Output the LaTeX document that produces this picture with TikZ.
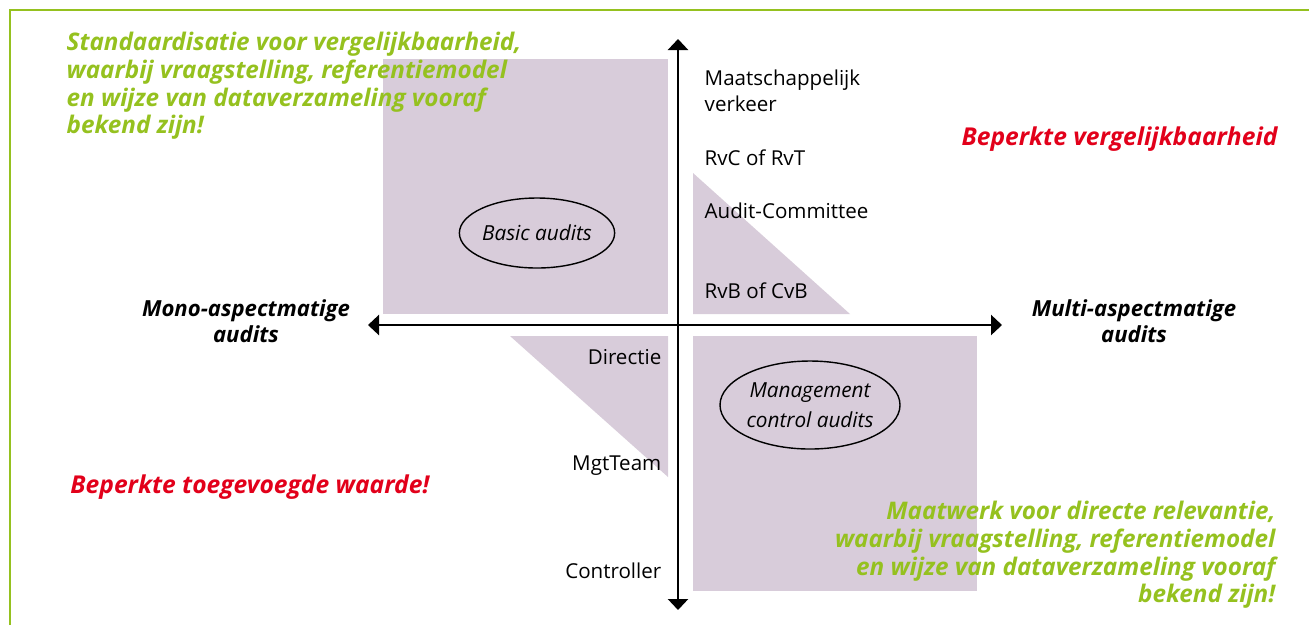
\documentclass[tikz,border=0pt]{standalone}
\usepackage{fontspec}
\setmainfont{Open Sans}
\usepackage{xcolor}
\usetikzlibrary{shapes.geometric,arrows.meta,positioning}

\definecolor{lime}{RGB}{149,193,31}
\definecolor{signal}{RGB}{226,0,26}
\definecolor{mauve}{RGB}{216,204,218}

\begin{document}
\begin{tikzpicture}[
    every node/.style={inner sep=0pt, font=\fontsize{5.85}{7.4}\selectfont},
    axis/.style={line width=0.7pt, {Triangle[width=0.2cm,length=0.11cm]}-{Triangle[width=0.2cm,length=0.11cm]}},
    field/.style={fill=mauve},
    claim/.style={text=lime, font=\fontsize{6.9}{7.9}\selectfont\bfseries\itshape},
    warn/.style={text=signal, font=\fontsize{7}{7.9}\selectfont\bfseries\itshape},
    pole/.style={align=center, font=\fontsize{6.3}{7.4}\selectfont\bfseries\itshape},
    kind/.style={ellipse, draw, line width=0.4pt, align=center, font=\fontsize{5.9}{8.5}\selectfont\itshape}]

    \useasboundingbox (0,0) rectangle (13.09,6.25);

    % frame
    \draw[lime, line width=0.6pt] (0.10,0) -- (0.10,6.15) -- (13.09,6.15);

    % shaded fields
    \fill[field] (3.83,3.11) rectangle (6.68,5.66);
    \fill[field] (6.93,4.52) -- (6.93,3.11) -- (8.50,3.11) -- cycle;
    \fill[field] (5.10,2.89) -- (6.68,2.89) -- (6.68,1.48) -- cycle;
    \fill[field] (6.93,0.34) rectangle (9.77,2.89);

    % axes
    \coordinate (top) at (6.78,5.86);
    \coordinate (bottom) at (6.78,0.15);
    \coordinate (left) at (3.68,3.00);
    \coordinate (right) at (10.02,3.00);
    \draw[axis] (bottom) -- (top);
    \draw[axis] (left) -- (right);

    \node[pole] (mono) at (2.46,3.04) {Mono-aspectmatige\\audits};
    \node[pole] (multi) at (11.34,3.04) {Multi-aspectmatige\\audits};

    % levels along the axis
    \node[anchor=west, align=left] (mv) at (7.04,5.34) {Maatschappelijk\\verkeer};
    \node[anchor=west] (rvc) at (7.04,4.67) {RvC of RvT};
    \node[anchor=west] (ac) at (7.04,4.14) {Audit-Committee};
    \node[anchor=west] (rvb) at (7.04,3.34) {RvB of CvB};
    \node[anchor=east] (dir) at (6.62,2.68) {Directie};
    \node[anchor=east] (mgt) at (6.62,1.59) {MgtTeam};
    \node[anchor=east] (ctrl) at (6.62,0.54) {Controller};

    % audit types
    \node[kind, minimum width=1.54cm, minimum height=0.70cm] (basic) at (5.37,3.92) {Basic audits};
    \node[kind, minimum width=1.80cm, minimum height=0.88cm] (mca) at (8.10,2.20) {Management\\control audits};

    % statements
    \node[claim, anchor=west, align=left] (std) at (0.66,5.39)
        {Standaardisatie voor vergelijkbaarheid,\\waarbij vraagstelling, referentiemodel\\en wijze van dataverzameling vooraf\\bekend zijn!};
    \node[claim, anchor=east, align=right] (maat) at (12.76,0.70)
        {Maatwerk voor directe relevantie,\\waarbij vraagstelling, referentiemodel\\en wijze van dataverzameling vooraf\\bekend zijn!};
    \node[warn] (bv) at (11.195,4.86) {Beperkte vergelijkbaarheid};
    \node[warn] (btw) at (2.50,1.38) {Beperkte toegevoegde waarde!};
\end{tikzpicture}
\end{document}
